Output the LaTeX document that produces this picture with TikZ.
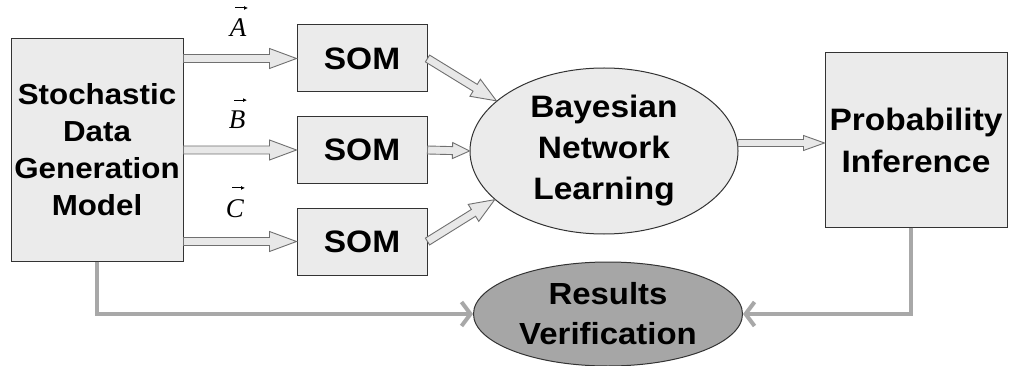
\documentclass[tikz,border=0pt]{standalone}
\usepackage{fontspec}
\setmainfont{Liberation Sans}[FakeStretch=1.08]
\newfontfamily\serifit{Liberation Serif}
\usetikzlibrary{calc,arrows.meta,shapes.geometric}

\definecolor{boxfill}{HTML}{EBEBEB}
\definecolor{boxline}{HTML}{333333}
\definecolor{arrfill}{HTML}{E8E8E8}
\definecolor{arrline}{HTML}{707070}
\definecolor{linkgray}{HTML}{A8A8A8}
\definecolor{resfill}{HTML}{A6A6A6}

\tikzset{
  blockbox/.style={draw=boxline, fill=boxfill, line width=1pt, inner sep=0pt,
    align=center, font=\fontsize{31}{41}\selectfont\bfseries},
  sombox/.style={blockbox, minimum width=130pt, minimum height=67pt},
  ovalnode/.style={blockbox, ellipse},
  blockarrow/.style={draw=arrline, fill=arrfill, line width=0.9pt, line join=miter},
  link/.style={draw=linkgray, line width=4pt,
    -{Straight Barb[length=9pt 0, width=24pt 0]}},
  vlabel/.style={anchor=base, inner sep=0pt, font=\fontsize{27}{30}\selectfont\serifit\itshape},
  vecarrow/.style={draw=black, line width=1pt, -{Latex[length=4pt 0, width=4pt 0]}}
}

% hollow block arrow: from, to, head length, head half-width, shaft half-width
\newcommand\blockarrow[5]{%
  \path ($(#2)!#3!(#1)$) coordinate (bah);
  \draw[blockarrow] ($(#1)!#5!90:(#2)$) -- ($(bah)!#5!90:(#2)$)
    -- ($(bah)!#4!90:(#2)$) -- (#2) -- ($(bah)!#4!-90:(#2)$)
    -- ($(bah)!#5!-90:(#2)$) -- ($(#1)!#5!-90:(#2)$) -- cycle;}

% small vector arrow over a label
\newcommand\vecmark[1]{%
  \draw[vecarrow] ([xshift=-3pt, yshift=11pt]#1.north) -- ([xshift=10pt, yshift=11pt]#1.north);}

\begin{document}
\begin{tikzpicture}[x=1pt, y=-1pt]
  \fill[white] (0,0) rectangle (1011,366);
  \useasboundingbox (0,0) rectangle (1011,366);

  % boxes and ovals
  \node[blockbox, minimum width=172pt, minimum height=222pt,
        font=\fontsize{29}{37}\selectfont\bfseries] (sdg) at (97,150)
        {Stochastic\\Data\\Generation\\Model};
  \node[sombox] (som1) at (362,58.5) {SOM};
  \node[sombox] (som2) at (362,150) {SOM};
  \node[sombox] (som3) at (362,241.5) {SOM};
  \node[ovalnode, minimum width=268pt, minimum height=166pt] (bn) at (604,151)
        {Bayesian\\Network\\Learning};
  \node[blockbox, minimum width=182pt, minimum height=174pt,
        font=\fontsize{31}{42}\selectfont\bfseries] (prob) at (916,140)
        {Probability\\Inference};
  \node[ovalnode, fill=resfill, minimum width=269pt, minimum height=104pt,
        font=\fontsize{30.5}{40}\selectfont\bfseries] (rv) at (608,314)
        {Results\\Verification};

  % vector labels
  \node[vlabel] (la) at (238,37) {A};
  \node[vlabel] (lb) at (237,129) {B};
  \node[vlabel] (lc) at (235,217) {C};
  \vecmark{la}
  \vecmark{lb}
  \vecmark{lc}

  % anchor points for the data arrows
  \coordinate (a1) at (sdg.east |- som1.east);
  \coordinate (a2) at (sdg.east |- som2.east);
  \coordinate (a3) at (sdg.east |- som3.east);
  \coordinate (bnout) at (738,143);
  \coordinate (probin) at (prob.west |- bnout);

  % data flow
  \blockarrow{a1}{som1.west}{27pt}{10pt}{4pt}
  \blockarrow{a2}{som2.west}{27pt}{10pt}{4pt}
  \blockarrow{a3}{som3.west}{27pt}{10pt}{4pt}
  \blockarrow{som1.east}{bn.155}{25pt}{10pt}{4pt}
  \blockarrow{som2.east}{bn.west}{17pt}{8pt}{4pt}
  \blockarrow{som3.east}{bn.204}{25pt}{10pt}{4pt}
  \blockarrow{bnout}{probin}{21pt}{7.5pt}{3.5pt}

  % verification links
  \draw[link] (sdg.south) |- (rv.west);
  \draw[link] ([xshift=-5pt]prob.south) |- (rv.east);
\end{tikzpicture}
\end{document}
